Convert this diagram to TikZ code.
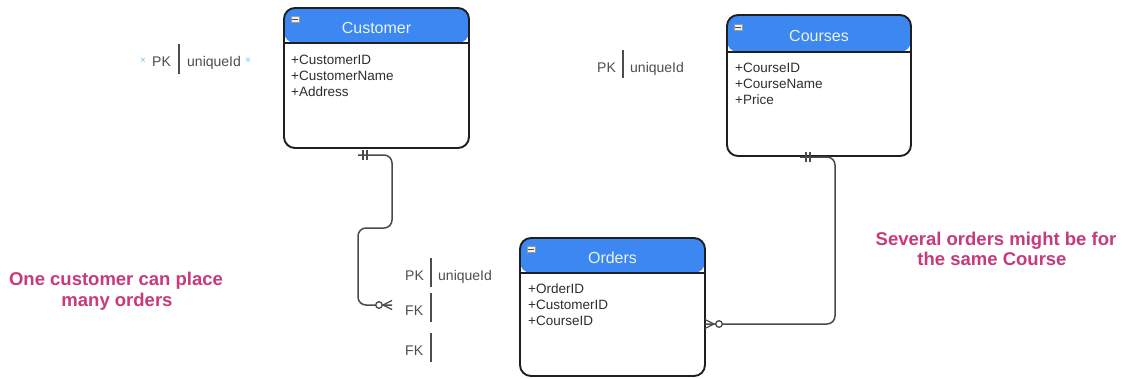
\documentclass[tikz,border=0pt]{standalone}
\usepackage{fontspec}
\setmainfont{Liberation Sans}
\usetikzlibrary{calc}
\definecolor{hdrblue}{HTML}{3D87F2}
\definecolor{edgedark}{HTML}{1F1F1F}
\definecolor{linkgray}{HTML}{4A4A4A}
\definecolor{keygray}{HTML}{4D4D4D}
\definecolor{notepink}{HTML}{C73A7C}
\definecolor{handleblue}{HTML}{7CC3E8}
\definecolor{titlefg}{HTML}{EAF2FF}
\begin{document}
\begin{tikzpicture}[x=1pt,y=-1pt,
  entity/.style={draw=edgedark, line width=1.9pt, rounded corners=11pt, fill=white,
    inner sep=0pt, outer sep=0pt, anchor=north west,
    path picture={\fill[hdrblue] (path picture bounding box.north west)
      rectangle ([yshift=-#1]path picture bounding box.north east);}},
  entity/.default=35pt,
  divider/.style={draw=edgedark, line width=1.9pt},
  title/.style={text=titlefg, font=\fontsize{16}{19}\selectfont, anchor=base, inner sep=0pt},
  icon/.style={fill=white!88!gray, draw=gray!80, line width=0.4pt, minimum width=8pt, minimum height=6pt, inner sep=0pt,
    path picture={\draw[edgedark!80, line width=1pt] ([xshift=1pt]path picture bounding box.west) -- ([xshift=-1pt]path picture bounding box.east);}},
  attr/.style={text=black!82, font=\fontsize{13.5}{16}\selectfont, anchor=base west, inner sep=0pt},
  keytxt/.style={text=keygray, font=\fontsize{14}{16}\selectfont, anchor=base west, inner sep=0pt},
  keybar/.style={draw=keygray, line width=1.3pt},
  handle/.style={text=handleblue, font=\fontsize{10}{12}\selectfont, inner sep=0pt},
  link/.style={draw=linkgray, line width=1.5pt, rounded corners=8pt},
  linkmark/.style={draw=linkgray, line width=1.3pt},
  note/.style={text=notepink, font=\bfseries\fontsize{18.5}{21}\selectfont, anchor=base, inner sep=0pt}
]
\useasboundingbox[fill=white] (0,0) rectangle (1122,378);

% ---------- entities ----------
\node[entity, minimum width=185pt, minimum height=140pt] (cust) at (284,8) {};
\draw[divider] ($(cust.north west)+(0,35)$) -- ($(cust.north east)+(0,35)$);
\node[icon] (cust-icon) at ($(cust.north west)+(11,11)$) {};
\node[title] (cust-title) at ($(cust.north)+(0,25)$) {Customer};
\foreach \t [count=\i] in {+CustomerID,+CustomerName,+Address}
  \node[attr] (cust-a\i) at ($(cust.north west)+(7,40+16*\i)$) {\t};

\node[entity=37pt, minimum width=184pt, minimum height=141pt] (course) at (727,15) {};
\draw[divider] ($(course.north west)+(0,37)$) -- ($(course.north east)+(0,37)$);
\node[icon] (course-icon) at ($(course.north west)+(11,12)$) {};
\node[title] (course-title) at ($(course.north)+(0,26)$) {Courses};
\foreach \t [count=\i] in {+CourseID,+CourseName,+Price}
  \node[attr] (course-a\i) at ($(course.north west)+(8,41+16*\i)$) {\t};

\node[entity, minimum width=185pt, minimum height=138pt] (ord) at (520,238) {};
\draw[divider] ($(ord.north west)+(0,35)$) -- ($(ord.north east)+(0,35)$);
\node[icon] (ord-icon) at ($(ord.north west)+(11,11)$) {};
\node[title] (ord-title) at ($(ord.north)+(0,25)$) {Orders};
\foreach \t [count=\i] in {+OrderID,+CustomerID,+CourseID}
  \node[attr] (ord-a\i) at ($(ord.north west)+(8,39+16*\i)$) {\t};

% ---------- key labels ----------
\node[handle] (cust-h1) at (143,61) {×};
\node[keytxt] (cust-pk) at (152,66) {PK};
\draw[keybar] (179,44) -- (179,74);
\node[keytxt] (cust-uid) at (187,66) {uniqueId};
\node[handle] (cust-h2) at (248,61) {×};

\node[keytxt] (course-pk) at (597,72) {PK};
\draw[keybar] (623,50) -- (623,78);
\node[keytxt] (course-uid) at (630,72) {uniqueId};

\node[keytxt] (ord-pk) at (405,280) {PK};
\draw[keybar] (431,258) -- (431,287);
\node[keytxt] (ord-uid) at (438,280) {uniqueId};
\node[keytxt] (ord-fk1) at (405,315) {FK};
\draw[keybar] (431,293) -- (431,322);
\node[keytxt] (ord-fk2) at (405,355) {FK};
\draw[keybar] (431,333) -- (431,362);

% ---------- relationships ----------
% Customer (one, mandatory) to Orders.CustomerID (zero or many)
\coordinate (custlink) at (358,155);
\coordinate (fklink) at (392,305);
\draw[link] (custlink) -- ++(34,0) -- ++(0,73) -- ++(-34,0) |- (fklink);
\draw[linkmark] ($(custlink)+(5,-5)$) -- ++(0,10);
\draw[linkmark] ($(custlink)+(9,-5)$) -- ++(0,10);
\draw[linkmark] ($(fklink)+(-9,0)$) -- ($(fklink)+(0,-4.5)$);
\draw[linkmark] ($(fklink)+(-9,0)$) -- ($(fklink)+(0,4.5)$);
\draw[linkmark, fill=white] ($(fklink)+(-13,0)$) circle (3.3pt);

% Courses (one, mandatory) to Orders (zero or many)
\coordinate (courselink) at (800,157);
\coordinate (ordlink) at ($(ord.north east)+(0,86)$);
\draw[link] (courselink) -- ++(35,0) |- (ordlink);
\draw[linkmark] ($(courselink)+(6,-5)$) -- ++(0,10);
\draw[linkmark] ($(courselink)+(10,-5)$) -- ++(0,10);
\draw[linkmark] ($(ordlink)+(9,0)$) -- ($(ordlink)+(0,-4.5)$);
\draw[linkmark] ($(ordlink)+(9,0)$) -- ($(ordlink)+(0,4.5)$);
\draw[linkmark, fill=white] ($(ordlink)+(14,0)$) circle (3.3pt);

% ---------- notes ----------
\node[note] (note-cust1) at (116,285) {One customer can place};
\node[note] (note-cust2) at (117,306) {many orders};
\node[note] (note-course1) at (996,245) {Several orders might be for};
\node[note] (note-course2) at (992,265) {the same Course};
\end{tikzpicture}
\end{document}
